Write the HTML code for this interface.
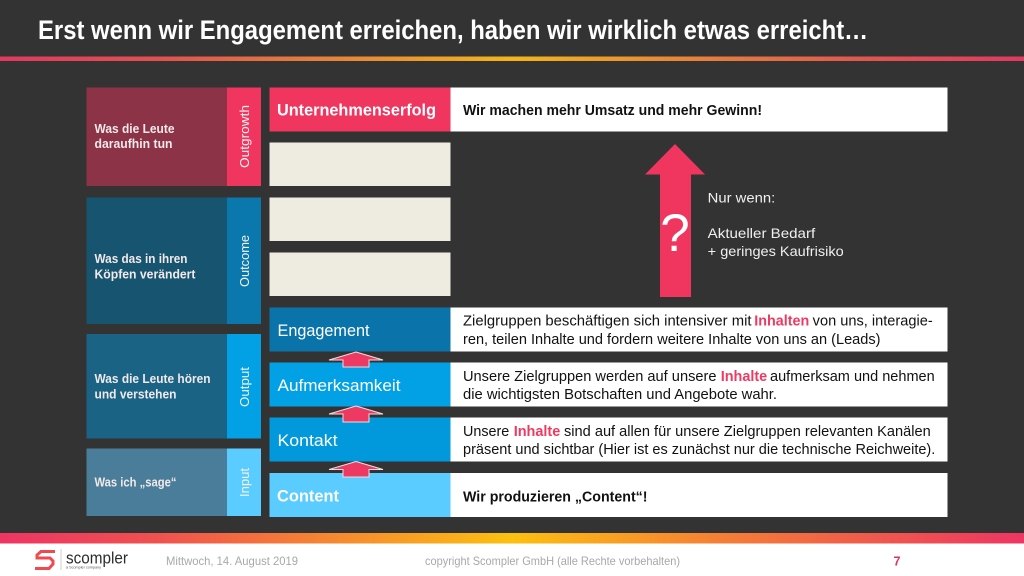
<!DOCTYPE html>
<html lang="de">
<head>
<meta charset="utf-8">
<title>Engagement</title>
<style>
html,body{margin:0;padding:0;background:#333;width:1024px;height:576px;overflow:hidden}
svg{display:block;font-family:"Liberation Sans",sans-serif}
.b{font-size:14.5px;fill:#111}
.p{fill:#ee3a62}
.s{font-size:12.5px;fill:#f2e9ea;font-weight:bold}
.r{font-size:13px;fill:#f3f3f3}
.l{font-size:17px;fill:#fff}
</style>
</head>
<body>
<svg xmlns="http://www.w3.org/2000/svg" width="1024" height="576" viewBox="0 0 1024 576">
<defs>
<linearGradient id="g" x1="0" x2="1" y1="0" y2="0">
<stop offset="0" stop-color="#ee3563"/><stop offset=".15" stop-color="#ef5050"/><stop offset=".3" stop-color="#f58035"/><stop offset=".5" stop-color="#fcc010"/><stop offset=".7" stop-color="#f58035"/><stop offset=".85" stop-color="#ef5a4c"/><stop offset="1" stop-color="#ee3563"/>
</linearGradient>
<linearGradient id="gh" x1="0" x2="1" y1="0" y2="0">
<stop offset="0" stop-color="#e03a60"/><stop offset=".15" stop-color="#e05050"/><stop offset=".3" stop-color="#e57c3e"/><stop offset=".5" stop-color="#f2b51c"/><stop offset=".7" stop-color="#e57c3e"/><stop offset=".85" stop-color="#e05550"/><stop offset="1" stop-color="#e03a60"/>
</linearGradient>
</defs>
<rect width="1024" height="576" fill="#333"/>
<text x="38" y="39" font-size="26.5" font-weight="bold" fill="#fff" textLength="830" lengthAdjust="spacingAndGlyphs">Erst wenn wir Engagement erreichen, haben wir wirklich etwas erreicht…</text>
<rect x="0" y="56.5" width="1024" height="4.5" fill="url(#gh)"/>

<g>
<rect x="86.5" y="87.5" width="141" height="98.5" fill="#8c3347"/>
<rect x="227" y="87.5" width="34" height="98.5" fill="#f0365f"/>
<rect x="86.5" y="197.5" width="141" height="126.5" fill="#17546f"/>
<rect x="227" y="197.5" width="34" height="126.5" fill="#0a77ad"/>
<rect x="86.5" y="334" width="141" height="104.5" fill="#1a6385"/>
<rect x="227" y="334" width="34" height="104.5" fill="#02a0e4"/>
<rect x="86.5" y="448.5" width="141" height="67.5" fill="#4a7d99"/>
<rect x="227" y="448.5" width="34" height="67.5" fill="#5accff"/>

<text class="s" x="94.5" y="133" textLength="80" lengthAdjust="spacingAndGlyphs">Was die Leute</text>
<text class="s" x="94.5" y="148" textLength="78" lengthAdjust="spacingAndGlyphs">daraufhin tun</text>
<text class="s" x="94.5" y="263" textLength="93" lengthAdjust="spacingAndGlyphs">Was das in ihren</text>
<text class="s" x="94.5" y="278.5" textLength="101" lengthAdjust="spacingAndGlyphs">Köpfen verändert</text>
<text class="s" x="94.5" y="383" textLength="116" lengthAdjust="spacingAndGlyphs">Was die Leute hören</text>
<text class="s" x="94.5" y="398.5" textLength="82" lengthAdjust="spacingAndGlyphs">und verstehen</text>
<text class="s" x="94.5" y="486.5" textLength="82" lengthAdjust="spacingAndGlyphs">Was ich „sage“</text>

<text class="r" transform="translate(249,168) rotate(-90)" textLength="63" lengthAdjust="spacingAndGlyphs">Outgrowth</text>
<text class="r" transform="translate(249,287) rotate(-90)" textLength="52" lengthAdjust="spacingAndGlyphs">Outcome</text>
<text class="r" transform="translate(249,407) rotate(-90)" textLength="40" lengthAdjust="spacingAndGlyphs">Output</text>
<text class="r" transform="translate(249,497) rotate(-90)" textLength="29" lengthAdjust="spacingAndGlyphs">Input</text>
</g>

<g>
<rect x="450.5" y="87.5" width="497" height="44" fill="#fff"/>
<rect x="269.5" y="87.5" width="181" height="44" fill="#f0365f"/>
<rect x="269.5" y="142.5" width="181" height="43.5" fill="#eeebe0"/>
<rect x="269.5" y="197.5" width="181" height="43.5" fill="#eeebe0"/>
<rect x="269.5" y="252.5" width="181" height="43.5" fill="#eeebe0"/>
<rect x="450.5" y="307.5" width="497" height="44" fill="#fff"/>
<rect x="269.5" y="307.5" width="181" height="44" fill="#0a74aa"/>
<rect x="450.5" y="362.5" width="497" height="44" fill="#fff"/>
<rect x="269.5" y="362.5" width="181" height="44" fill="#02a0e4"/>
<rect x="450.5" y="417.5" width="497" height="44" fill="#fff"/>
<rect x="269.5" y="417.5" width="181" height="44" fill="#0299dc"/>
<rect x="450.5" y="473" width="497" height="44" fill="#fff"/>
<rect x="269.5" y="473" width="181" height="44" fill="#5accff"/>

<text class="l" x="277" y="115.5" font-weight="bold" textLength="159" lengthAdjust="spacingAndGlyphs">Unternehmenserfolg</text>
<text class="l" x="277.5" y="336" textLength="92" lengthAdjust="spacingAndGlyphs">Engagement</text>
<text class="l" x="277.5" y="391" textLength="123" lengthAdjust="spacingAndGlyphs">Aufmerksamkeit</text>
<text class="l" x="277.5" y="446" textLength="60" lengthAdjust="spacingAndGlyphs">Kontakt</text>
<text class="l" x="277" y="501.5" font-weight="bold" textLength="62" lengthAdjust="spacingAndGlyphs">Content</text>

<text class="b" x="463" y="115" font-weight="bold" textLength="299" lengthAdjust="spacingAndGlyphs">Wir machen mehr Umsatz und mehr Gewinn!</text>

<text class="b" x="463" y="325.5" textLength="288.5" lengthAdjust="spacingAndGlyphs">Zielgruppen beschäftigen sich intensiver mit</text>
<text class="b p" x="754.3" y="325.5" font-weight="bold" textLength="55" lengthAdjust="spacingAndGlyphs">Inhalten</text>
<text class="b" x="812.7" y="325.5" textLength="120" lengthAdjust="spacingAndGlyphs">von uns, interagie-</text>
<text class="b" x="463" y="344" textLength="417.5" lengthAdjust="spacingAndGlyphs">ren, teilen Inhalte und fordern weitere Inhalte von uns an (Leads)</text>

<text class="b" x="463" y="381" textLength="253.5" lengthAdjust="spacingAndGlyphs">Unsere Zielgruppen werden auf unsere</text>
<text class="b p" x="720.7" y="381" font-weight="bold" textLength="46.5" lengthAdjust="spacingAndGlyphs">Inhalte</text>
<text class="b" x="770" y="381" textLength="164.7" lengthAdjust="spacingAndGlyphs">aufmerksam und nehmen</text>
<text class="b" x="463" y="399" textLength="314" lengthAdjust="spacingAndGlyphs">die wichtigsten Botschaften und Angebote wahr.</text>

<text class="b" x="463" y="436" textLength="46.3" lengthAdjust="spacingAndGlyphs">Unsere</text>
<text class="b p" x="513.7" y="436" font-weight="bold" textLength="46.6" lengthAdjust="spacingAndGlyphs">Inhalte</text>
<text class="b" x="564" y="436" textLength="366.7" lengthAdjust="spacingAndGlyphs">sind auf allen für unsere Zielgruppen relevanten Kanälen</text>
<text class="b" x="463" y="454" textLength="472.3" lengthAdjust="spacingAndGlyphs">präsent und sichtbar (Hier ist es zunächst nur die technische Reichweite).</text>

<text class="b" x="463" y="501.5" font-weight="bold" textLength="184.5" lengthAdjust="spacingAndGlyphs">Wir produzieren „Content“!</text>
</g>

<g>
<polygon points="356,352 383,360 369,360 369,367 343,367 343,360 329,360" fill="#ee3a62" stroke="#e9dfe0" stroke-width="1"/>
<polygon points="356,406 383,414 369,414 369,422 343,422 343,414 329,414" fill="#ee3a62" stroke="#e9dfe0" stroke-width="1"/>
<polygon points="356,461.5 383,469.5 369,469.5 369,477 343,477 343,469.5 329,469.5" fill="#ee3a62" stroke="#e9dfe0" stroke-width="1"/>
</g>

<polygon points="675,144 705,174.5 691,174.5 691,297 660,297 660,174.5 645,174.5" fill="#f0365f"/>
<text x="675" y="251" font-size="53" text-anchor="middle" fill="#fff">?</text>
<text x="707.7" y="202.5" font-size="14" fill="#f0f0f0" textLength="67.5" lengthAdjust="spacingAndGlyphs">Nur wenn:</text>
<text x="707.7" y="238" font-size="14" fill="#f0f0f0" textLength="107.5" lengthAdjust="spacingAndGlyphs">Aktueller Bedarf</text>
<text x="707.7" y="256" font-size="14" fill="#f0f0f0" textLength="136" lengthAdjust="spacingAndGlyphs">+ geringes Kaufrisiko</text>

<g>
<rect x="0" y="533" width="1024" height="10.5" fill="url(#g)"/>
<rect x="0" y="543.5" width="1024" height="32.5" fill="#fff"/>
<g>
<polyline points="55,551.5 41,551.5 37,555 37,558 50,558 53,561 53,564 49,568.5 35,568.5" fill="none" stroke="#ee4a50" stroke-width="3"/>
<rect x="60.5" y="549" width="1" height="21" fill="#cfcfcf"/>
<text x="66" y="563.5" font-size="17" fill="#2c2c2c" textLength="62" lengthAdjust="spacingAndGlyphs">scompler</text>
<text x="66" y="568.5" font-size="4" fill="#555" textLength="35" lengthAdjust="spacingAndGlyphs">a Scompler company</text>
</g>
<text x="166" y="565" font-size="12" fill="#a8a8a8" textLength="132" lengthAdjust="spacingAndGlyphs">Mittwoch, 14. August 2019</text>
<text x="425" y="565" font-size="12" fill="#a8a8a8" textLength="255" lengthAdjust="spacingAndGlyphs">copyright Scompler GmbH (alle Rechte vorbehalten)</text>
<text x="893.5" y="565.5" font-size="12.5" font-weight="bold" fill="#d8365f">7</text>
</g>
</svg>
</body>
</html>
